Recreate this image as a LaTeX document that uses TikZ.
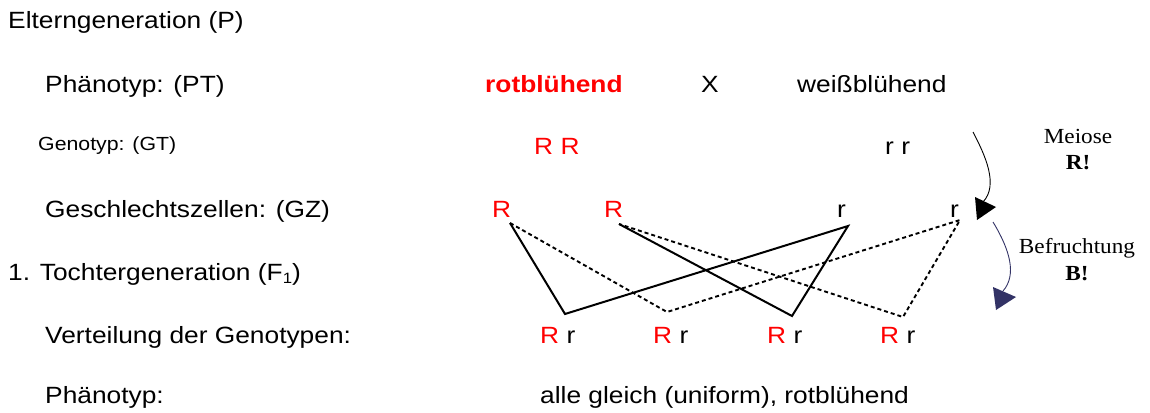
\documentclass[tikz,border=0pt]{standalone}
\usepackage{fontspec}
\setmainfont[FakeStretch=1.12]{Liberation Sans}
\newfontfamily\serifx[FakeStretch=1.08]{Liberation Serif}
\definecolor{navy}{RGB}{51,51,102}
\begin{document}
\begin{tikzpicture}[x=1pt,y=-1pt,
  lbl/.style={anchor=base west, inner sep=0pt, font=\fontsize{23.5}{28}\selectfont},
  smalllbl/.style={anchor=base west, inner sep=0pt, font=\fontsize{19}{23}\selectfont},
  redtxt/.style={text=red},
  serlbl/.style={anchor=base, inner sep=0pt, font=\serifx\fontsize{21.5}{26}\selectfont},
  cross/.style={line width=2pt, line join=miter},
  crossd/.style={line width=1.9pt, dash pattern=on 4pt off 3pt},
  curv/.style={line width=0.9pt}]
\useasboundingbox (0,0) rectangle (1150,412);
% left column
\node[lbl] (t1) at (8,29) {Elterngeneration (P)};
\node[lbl] (t2) at (45,92) {Phänotyp: (PT)};
\node[smalllbl] (t3) at (38,150) {Genotyp: (GT)};
\node[lbl] (t4) at (45,217) {Geschlechtszellen: (GZ)};
\node[lbl] (t5) at (8,280) {1. Tochtergeneration (F{\fontsize{15}{18}\selectfont\raisebox{-3pt}{1}})};
\node[lbl] (t6) at (45,343) {Verteilung der Genotypen:};
\node[lbl] (t7) at (45,403) {Phänotyp:};
% parents
\node[lbl,redtxt,font=\fontsize{23.5}{28}\selectfont\bfseries] (pr) at (485,92) {rotblühend};
\node[lbl] (px) at (701,92) {X};
\node[lbl] (pw) at (797,92) {weißblühend};
\node[lbl,redtxt] (gtR) at (534,154) {R R};
\node[lbl] (gtr) at (885,154) {r r};
% gametes
\node[lbl,redtxt] (gR1) at (492,217) {R};
\node[lbl,redtxt] (gR2) at (604,217) {R};
\node[lbl] (gr1) at (837,217) {r};
\node[lbl] (gr2) at (950,217) {r};
% offspring
\node[lbl] (o1) at (540,343) {\textcolor{red}{R} r};
\node[lbl] (o2) at (653,343) {\textcolor{red}{R} r};
\node[lbl] (o3) at (767,343) {\textcolor{red}{R} r};
\node[lbl] (o4) at (880,343) {\textcolor{red}{R} r};
\node[lbl] (ph) at (540,403) {alle gleich (uniform), rotblühend};
% connection points
\coordinate (a1) at (510,223);
\coordinate (a2) at (619,224);
\coordinate (a3) at (848,226);
\coordinate (a4) at (960,220);
\coordinate (v1) at (565,314);
\coordinate (v2) at (667,312);
\coordinate (v3) at (792,316);
\coordinate (v4) at (903,317);
\draw[cross] (a1) -- (v1) -- (a3) -- (v3) -- (a2);
\draw[crossd] (a1) -- (v2) -- (a4) -- (v4) -- (a2);
% Meiose / Befruchtung
\node[serlbl] (me) at (1078,143) {Meiose};
\node[serlbl] (mr) at (1078,169) {\bfseries R!};
\node[serlbl] (be) at (1077,253) {Befruchtung};
\node[serlbl] (bb) at (1077,280) {\bfseries B!};
\coordinate (m0) at (973,132);
\coordinate (m1) at (983,202);
\draw[curv] (m0) .. controls (985,155) and (999,185) .. (m1);
\fill (975,197) -- (996,207) -- (977,220) -- cycle;
\coordinate (b0) at (993,222);
\coordinate (b1) at (1003,291);
\draw[curv,navy] (b0) .. controls (1010,250) and (1017,275) .. (b1);
\fill[navy] (993,287) -- (1016,297) -- (996,310) -- cycle;
\end{tikzpicture}
\end{document}
